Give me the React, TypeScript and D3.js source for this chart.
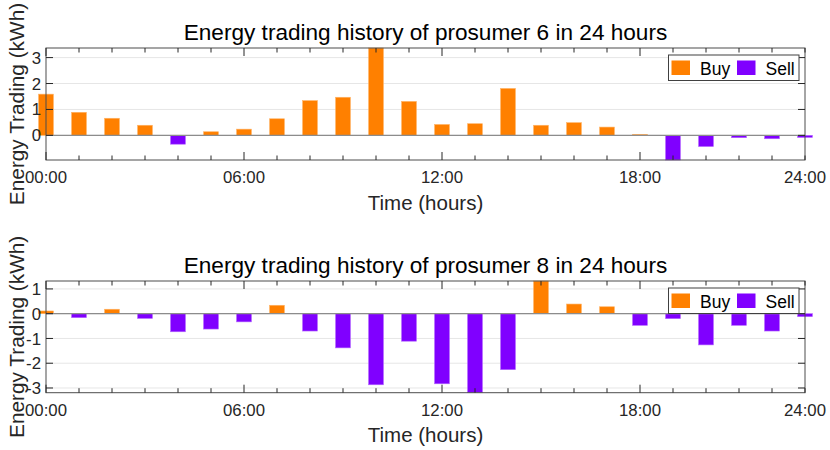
import React, { useEffect, useRef } from 'react';
import * as d3 from 'd3';

const WIDTH = 830;
const HEIGHT = 450;

// hourly energy trading (kWh), positive = buy, negative = sell
const hours = d3.range(24);
const prosumer6 = [1.59, 0.89, 0.66, 0.39, -0.34, 0.14, 0.24, 0.64, 1.34, 1.47, 3.37, 1.31,
  0.42, 0.45, 1.81, 0.39, 0.49, 0.32, 0.04, -0.95, -0.43, -0.09, -0.13, -0.08];
const prosumer8 = [0.11, -0.16, 0.18, -0.19, -0.73, -0.62, -0.33, 0.34, -0.70, -1.38, -2.87, -1.11,
  -2.83, -3.19, -2.26, 1.32, 0.39, 0.28, -0.47, -0.20, -1.26, -0.47, -0.70, -0.12];
const tickHours = [0, 6, 12, 18, 23];
const tickLabels = ['00:00', '06:00', '12:00', '18:00', '24:00'];
const legendItems = ['Buy', 'Sell'];

const BUY = '#ff8000';
const SELL = '#8000ff';
const FONT = '"Liberation Sans", Arial, Helvetica, sans-serif';

const App: React.FC = () => {
  const svgRef = useRef<SVGSVGElement>(null);

  useEffect(() => {
    if (!svgRef.current) return;
    const svg = d3.select(svgRef.current);
    svg.selectAll('*').remove();

    const panels = [
      { id: 6, data: prosumer6, top: 48, bottom: 160 },
      { id: 8, data: prosumer8, top: 281, bottom: 392.7 },
    ];
    const left = 46;
    const right = 805;

    const x = d3.scaleLinear().domain([0, 23]).range([left, right]);
    const barW = (x(1) - x(0)) * 0.45;

    panels.forEach((p) => {
      const g = svg.append('g');
      const ext = d3.extent(p.data) as [number, number];
      const y = d3.scaleLinear().domain(ext).range([p.bottom, p.top]);
      const yTicks = d3.range(Math.ceil(ext[0]), Math.floor(ext[1]) + 1);

      // grid
      g.selectAll('.grid')
        .data(yTicks)
        .join('line')
        .attr('x1', left)
        .attr('x2', right)
        .attr('y1', (d) => y(d))
        .attr('y2', (d) => y(d))
        .attr('stroke', '#e6e6e6')
        .attr('stroke-width', 1);

      // bars
      g.selectAll('.bar')
        .data(p.data)
        .join('rect')
        .attr('x', (d, i) => x(hours[i]) - barW / 2)
        .attr('width', barW)
        .attr('y', (d) => y(Math.max(0, d)))
        .attr('height', (d) => Math.abs(y(d) - y(0)))
        .attr('fill', (d) => (d >= 0 ? BUY : SELL))
        .attr('stroke', (d) => (d >= 0 ? '#ffb366' : '#b366ff'))
        .attr('stroke-width', 0.6);

      // baseline
      g.append('line')
        .attr('x1', left)
        .attr('x2', right)
        .attr('y1', y(0))
        .attr('y2', y(0))
        .attr('stroke', '#8c8c8c')
        .attr('stroke-width', 1.2);

      // box
      g.append('rect')
        .attr('x', left)
        .attr('y', p.top)
        .attr('width', right - left)
        .attr('height', p.bottom - p.top)
        .attr('fill', 'none')
        .attr('stroke', '#4d4d4d')
        .attr('stroke-width', 1);

      // x ticks (inward, top and bottom)
      hours.forEach((h) => {
        const major = h % 6 === 0;
        const len = major ? 8 : 4.5;
        [p.bottom, p.top].forEach((yy, k) => {
          g.append('line')
            .attr('x1', x(h))
            .attr('x2', x(h))
            .attr('y1', yy)
            .attr('y2', k === 0 ? yy - len : yy + len)
            .attr('stroke', '#262626')
            .attr('stroke-width', 1);
        });
      });

      // y ticks (inward, left and right)
      yTicks.forEach((t) => {
        [[left, 7], [right, -7]].forEach(([xx, dx]) => {
          g.append('line')
            .attr('x1', xx)
            .attr('x2', xx + dx)
            .attr('y1', y(t))
            .attr('y2', y(t))
            .attr('stroke', '#262626')
            .attr('stroke-width', 1);
        });
        g.append('text')
          .attr('x', 41)
          .attr('y', y(t))
          .attr('dy', '0.36em')
          .attr('text-anchor', 'end')
          .attr('font-size', 16.8)
          .attr('fill', '#262626')
          .text(t);
      });

      // x tick labels
      tickHours.forEach((h, i) => {
        g.append('text')
          .attr('x', x(h))
          .attr('y', p.bottom + 23)
          .attr('text-anchor', 'middle')
          .attr('font-size', 16.8)
          .attr('fill', '#262626')
          .text(tickLabels[i]);
      });

      // labels and title
      g.append('text')
        .attr('x', (left + right) / 2)
        .attr('y', p.bottom + 49.5)
        .attr('text-anchor', 'middle')
        .attr('font-size', 20.5)
        .attr('fill', '#262626')
        .text('Time (hours)');

      g.append('text')
        .attr('transform', `translate(24,${(p.top + p.bottom) / 2}) rotate(-90)`)
        .attr('text-anchor', 'middle')
        .attr('font-size', 20.8)
        .attr('fill', '#262626')
        .text('Energy Trading (kWh)');

      g.append('text')
        .attr('x', (left + right) / 2)
        .attr('y', p.top - 8.5)
        .attr('text-anchor', 'middle')
        .attr('font-size', 22.6)
        .attr('fill', '#000')
        .text(`Energy trading history of prosumer ${p.id} in 24 hours`);

      // legend
      const lg = g.append('g').attr('transform', `translate(668.5,${p.top + 7})`);
      lg.append('rect')
        .attr('width', 130.5)
        .attr('height', 25.5)
        .attr('fill', '#fff')
        .attr('stroke', '#404040')
        .attr('stroke-width', 1);
      legendItems.forEach((name, i) => {
        const ox = i === 0 ? 3 : 68.5;
        lg.append('rect')
          .attr('x', ox)
          .attr('y', 5.5)
          .attr('width', 18.5)
          .attr('height', 14.5)
          .attr('fill', i === 0 ? BUY : SELL);
        lg.append('text')
          .attr('x', ox + 28.5)
          .attr('y', 19.5)
          .attr('font-size', 17.5)
          .attr('fill', '#000')
          .text(name);
      });
    });
  }, []);

  return (
    <svg
      ref={svgRef}
      width={WIDTH}
      height={HEIGHT}
      viewBox={`0 0 ${WIDTH} ${HEIGHT}`}
      style={{ position: 'absolute', left: 0, top: 0, fontFamily: FONT, background: '#fff' }}
    />
  );
};

export default App;
